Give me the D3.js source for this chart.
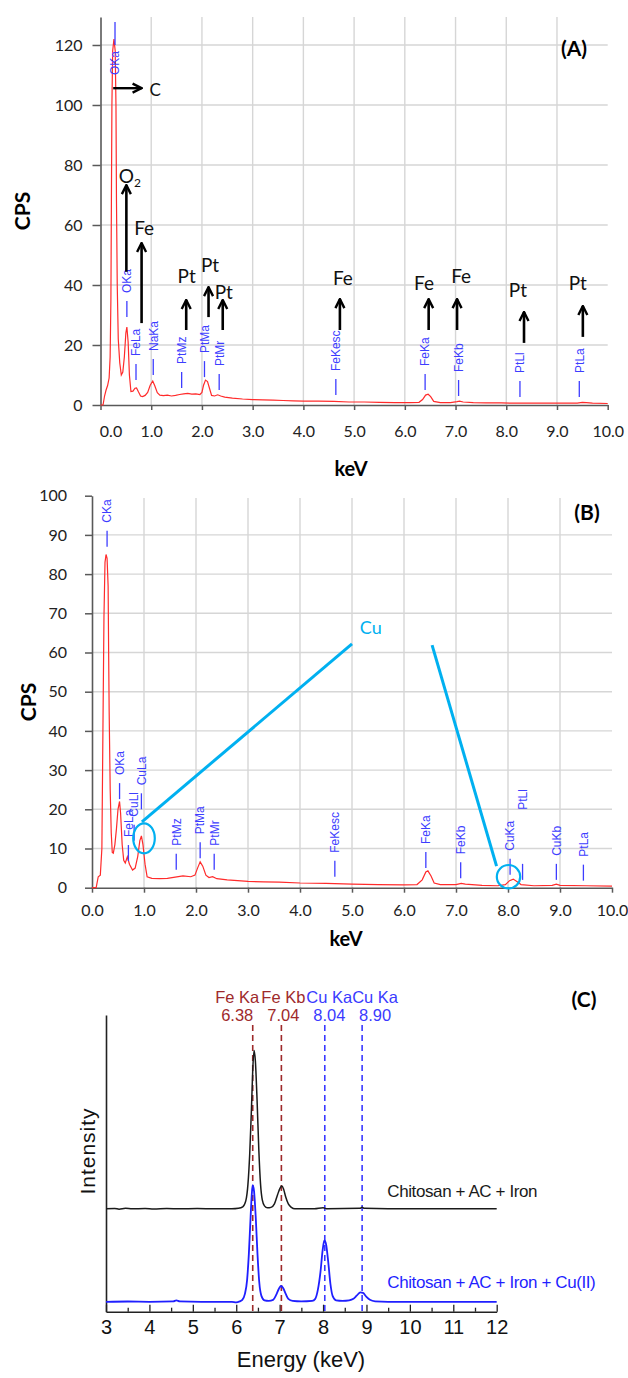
<!DOCTYPE html>
<html>
<head>
<meta charset="utf-8">
<script src="https://cdn.jsdelivr.net/npm/d3@7"></script>
<style>
body { margin: 0; background: #fff; }
svg { font-family: Lato, "Open Sans", sans-serif; }
</style>
</head>
<body>
<svg id="chart" width="628" height="1378"></svg>
<script>
// ---- data: panel A (keV, CPS) ----
const spectrumA = [
  [0.00,0],[0.05,0],[0.08,3],[0.11,5],[0.14,6.5],[0.17,9],[0.19,16],[0.205,35],[0.215,68],[0.225,100],
  [0.24,118],[0.265,122],[0.29,118],[0.305,100],[0.315,68],[0.33,40],[0.35,22],[0.38,14],[0.41,10],
  [0.44,11],[0.47,16],[0.50,24],[0.52,26],[0.545,21],[0.57,10],[0.60,4.5],[0.64,4.6],[0.68,5.6],
  [0.71,5.7],[0.75,4.3],[0.79,3.0],[0.83,2.8],[0.88,3.2],[0.93,4.2],[0.98,6.6],[1.03,8.0],[1.07,6.4],
  [1.12,4.1],[1.17,3.3],[1.24,3.1],[1.32,3.3],[1.40,3.0],[1.48,3.2],[1.56,3.5],[1.64,3.7],[1.72,3.9],
  [1.80,3.6],[1.88,3.7],[1.96,3.5],[2.00,4.2],[2.03,6.5],[2.07,8.3],[2.11,7.8],[2.15,5.5],[2.19,3.2],
  [2.25,3.0],[2.31,3.4],[2.37,3.0],[2.45,2.6],[2.6,2.3],[2.8,2.0],[3.0,1.8],[3.2,1.7],[3.4,1.6],
  [3.6,1.5],[3.8,1.4],[4.0,1.3],[4.3,1.3],[4.6,1.2],[4.9,1.0],[5.2,1.0],[5.5,0.9],[5.8,0.8],[6.1,0.8],
  [6.28,0.9],[6.35,1.8],[6.41,3.3],[6.46,3.6],[6.51,2.8],[6.57,1.2],[6.7,0.8],[6.9,0.8],[7.03,1.1],
  [7.08,1.3],[7.15,1.0],[7.35,0.8],[7.6,0.7],[7.9,0.7],[8.2,0.6],[8.5,0.6],[8.8,0.6],[9.1,0.6],
  [9.4,0.6],[9.5,0.9],[9.58,0.8],[9.7,0.6],[10.0,0.5]
];
const markerNamesA = ["OKa","FeLa","NaKa","PtMz","PtMa","PtMr","FeKesc","FeKa","FeKb","PtLl","PtLa"];
const markerKeVA   = [0.52, 0.70, 1.04, 1.60, 2.05, 2.34, 4.64, 6.40, 7.06, 8.27, 9.44];
const markerLevelA = [29.3, 8.3, 10, 5.7, 9.3, 5, 3.3, 5, 3, 2.7, 2.7];
const topMarkerA = ["OKa", 0.286, 127.7];   // label at the top of the C peak

const arrowLabelsA = ["O","Fe","Pt","Pt","Pt","Fe","Fe","Fe","Pt","Pt"];
const arrowKeVA    = [0.51, 0.81, 1.69, 2.13, 2.41, 4.72, 6.47, 7.03, 8.35, 9.51];
const arrowFromA   = [44.4, 27.3, 25, 29.3, 25, 25, 25, 25, 20.7, 22.7];
const arrowToA     = [73.3, 54, 35, 39.3, 35, 35.3, 35.3, 35.3, 31, 33];
const labelKeVA    = [0.58, 0.86, 1.70, 2.16, 2.43, 4.78, 6.38, 7.11, 8.23, 9.41];
const labelCpsA    = [74, 56.7, 40.6, 44.4, 35.3, 40, 38.3, 40.7, 36, 38.3];
const carbonArrowA = [0.25, 0.81, 105.6];   // from keV, to keV, CPS

// ---- data: panel B ----
const spectrumB = [
  [0.00,0],[0.08,0],[0.12,2.8],[0.16,3.2],[0.19,10],[0.21,40],[0.23,69],[0.25,83],[0.27,85],[0.29,84],
  [0.31,77],[0.32,60],[0.33,45],[0.35,25],[0.37,14],[0.39,9],[0.41,8.8],[0.44,11],[0.47,15],[0.50,20],
  [0.53,22],[0.55,19],[0.58,11],[0.61,7],[0.64,6.3],[0.68,7.9],[0.72,6],[0.78,4.5],[0.83,5],[0.88,8],
  [0.92,12],[0.95,13.2],[0.98,11],[1.02,6],[1.06,2.8],[1.15,2.4],[1.3,2.3],[1.45,2.4],[1.6,2.7],
  [1.75,3],[1.9,2.8],[1.98,3.2],[2.03,5],[2.08,6.6],[2.13,5.5],[2.19,3.2],[2.25,2.6],[2.32,2.8],
  [2.4,2.3],[2.6,2],[2.8,1.8],[3.0,1.6],[3.3,1.5],[3.6,1.4],[4.0,1.2],[4.5,1.1],[5.0,0.9],[5.5,0.8],
  [6.0,0.7],[6.25,0.8],[6.35,2],[6.42,4],[6.46,4.3],[6.52,3],[6.58,1.2],[6.7,0.8],[7.0,0.8],[7.1,1.1],
  [7.18,0.9],[7.5,0.6],[7.8,0.5],[7.95,0.8],[8.03,1.8],[8.1,2.2],[8.17,1.6],[8.25,0.8],[8.5,0.5],
  [8.85,0.6],[8.93,0.9],[9.0,0.6],[9.5,0.5],[10,0.4]
];
const markerNamesB = ["CKa","OKa","FeLa","CuLl","CuLa","PtMz","PtMa","PtMr","FeKesc","FeKa","FeKb","CuKa","PtLl","CuKb","PtLa"];
const markerKeVB   = [0.29, 0.53, 0.70, 0.81, 0.95, 1.62, 2.08, 2.35, 4.67, 6.42, 7.09, 8.04, 8.28, 8.93, 9.45];
const markerLevelB = [87, 22.6, 6.8, 12, 20, 4.6, 7.5, 4.6, 2.8, 5, 2.4, 3.3, 2, 2, 1.8];
const cuCirclesB = [[1.00, 12.6], [8.01, 2.8]];
const cuLinesB   = [[0.96, 16.8, 5.0, 62.2], [6.54, 61.9, 7.78, 5.5]];
const cuLabelB   = [5.15, 64.7];

// ---- data: panel C ----
const ironSpectrum = [
  [3.0,0],[3.2,0.4],[3.3,-0.3],[3.45,0.5],[3.6,0],[3.9,0.4],[4.1,-0.2],[4.4,0.3],[4.7,0],[5.1,0.3],
  [5.5,0],[5.9,0],[6.05,0.5],[6.15,2],[6.22,8],[6.27,25],[6.31,55],[6.35,100],[6.38,140],[6.41,160],
  [6.44,150],[6.48,110],[6.52,60],[6.56,25],[6.60,9],[6.65,3],[6.72,1],[6.8,1.5],[6.88,5],[6.95,14],
  [7.01,21],[7.05,23],[7.09,20],[7.14,12],[7.2,5],[7.27,1.5],[7.35,0],[7.8,0],[8.0,1],[8.1,0],
  [8.85,0.5],[8.9,1.5],[8.95,0.5],[9.5,0],[12,0]
];
const copperSpectrum = [
  [3.0,0],[3.5,0.3],[4.0,0],[4.55,0.5],[4.62,1.5],[4.7,0.5],[5.2,0],[5.9,0],[6.0,-0.5],[6.08,0.5],
  [6.14,2],[6.2,8],[6.25,22],[6.29,48],[6.33,85],[6.36,110],[6.38,118],[6.41,112],[6.45,85],[6.49,48],
  [6.53,20],[6.58,6],[6.65,1.5],[6.75,1],[6.85,2],[6.92,7],[6.98,13],[7.03,16],[7.08,14],[7.14,8],
  [7.2,3],[7.3,1],[7.5,0.5],[7.75,1],[7.82,3],[7.88,12],[7.94,30],[7.99,52],[8.03,62],[8.07,58],
  [8.12,40],[8.17,18],[8.22,6],[8.3,1.5],[8.45,1],[8.6,1.5],[8.7,3],[8.78,6.5],[8.86,9.5],[8.92,9],
  [9.0,5],[9.08,2],[9.2,0.5],[9.5,0],[12,0]
];
const lineNamesC    = ["Fe Ka","Fe Kb","Cu Ka","Cu Ka"];
const lineEnergiesC = [6.38, 7.04, 8.04, 8.90];
const seriesNamesC  = ["Chitosan + AC + Iron", "Chitosan + AC + Iron + Cu(II)"];

// ---- drawing ----
const svg = d3.select("#chart");
const markerBlue = "#3d3dff", spectrumRed = "#ff2b2b", cuCyan = "#00b0f0";
const arial = "Liberation Sans, Arial, sans-serif";

let defs = svg.append("defs");
defs.append("marker")
    .attr("id", "head")
    .attr("viewBox", "0 0 12 12")
    .attr("refX", 11).attr("refY", 6)
    .attr("markerWidth", 12).attr("markerHeight", 12)
    .attr("markerUnits", "userSpaceOnUse")
    .attr("orient", "auto")
  .append("path")
    .attr("d", "M2,1.5 L11,6 L2,10.5")
    .attr("fill", "none")
    .attr("stroke", "#000")
    .attr("stroke-width", 2.4);

let drawPanel = (cfg) => {
    let g = svg.append("g");
    let x = d3.scaleLinear().domain([0, 10]).range(cfg.xRange);
    let y = d3.scaleLinear().domain([0, cfg.yMax]).range(cfg.yRange);

    // grid
    g.append("g").selectAll("line")
        .data(d3.range(1, 10))
        .join("line")
        .attr("x1", d => x(d)).attr("x2", d => x(d))
        .attr("y1", cfg.gridTop).attr("y2", y(0))
        .attr("stroke", "#d6d6d6").attr("stroke-width", 1.4);
    g.append("g").selectAll("line")
        .data(cfg.gridY)
        .join("line")
        .attr("x1", x(0)).attr("x2", x(10))
        .attr("y1", d => y(d)).attr("y2", d => y(d))
        .attr("stroke", "#d6d6d6").attr("stroke-width", 1.4);

    let xAxis = g.append("g")
        .attr("transform", `translate(0, ${y(0)})`)
        .call(d3.axisBottom(x).tickValues(d3.range(0, 11)).tickFormat(d3.format(".1f"))
              .tickSize(5).tickSizeOuter(0).tickPadding(cfg.xPad));
    let yAxis = g.append("g")
        .attr("transform", `translate(${x(0)}, 0)`)
        .call(d3.axisLeft(y).tickValues(cfg.yTicks).tickSize(cfg.yTickLen)
              .tickSizeOuter(0).tickPadding(cfg.yPad));
    for (let a of [xAxis, yAxis]) {
        a.select(".domain").attr("stroke", "#595959").attr("stroke-width", 1.6);
        a.selectAll(".tick line").attr("stroke", "#595959").attr("stroke-width", 1.5);
        a.selectAll(".tick text")
            .attr("font-family", "Lato").attr("font-size", 16).attr("fill", "#222");
    }
    if (cfg.firstLabelDx) xAxis.select(".tick text").attr("dx", cfg.firstLabelDx);

    // spectrum
    g.append("path")
        .datum(cfg.spectrum)
        .attr("fill", "none")
        .attr("stroke", spectrumRed)
        .attr("stroke-width", 1.2)
        .attr("d", d3.line().x(d => x(d[0])).y(d => y(d[1])));

    // titles
    g.append("text")
        .attr("transform", `translate(${cfg.cpsX}, ${cfg.cpsY}) rotate(-90)`)
        .attr("text-anchor", "middle")
        .attr("font-weight", "bold").attr("font-size", 21)
        .text("CPS");
    g.append("text")
        .attr("x", cfg.kevX).attr("y", cfg.kevY)
        .attr("text-anchor", "middle")
        .attr("font-weight", "bold").attr("font-size", 20)
        .text("keV");
    g.append("text")
        .attr("x", cfg.tagX).attr("y", cfg.tagY)
        .attr("text-anchor", "middle")
        .attr("font-weight", "bold").attr("font-size", 21)
        .text(cfg.tag);

    return {g, x, y};
};

// blue element markers: short tick, rotated name above it
let drawMarkers = (p, names, keVs, levels, lift) => {
    let rows = names.map((n, i) => ({name: n, keV: keVs[i], level: levels[i]}));
    let mg = p.g.append("g");
    mg.selectAll("line")
        .data(rows)
        .join("line")
        .attr("x1", d => p.x(d.keV)).attr("x2", d => p.x(d.keV))
        .attr("y1", d => p.y(d.level)).attr("y2", d => p.y(d.level) - 16)
        .attr("stroke", markerBlue).attr("stroke-width", 1.3);
    mg.selectAll("text")
        .data(rows)
        .join("text")
        .attr("transform", d =>
            `translate(${p.x(d.keV)}, ${p.y(d.level) - 24 - (lift[d.name] || 0)}) rotate(-90)`)
        .attr("dy", "0.36em")
        .attr("font-family", arial)
        .attr("font-size", 12)
        .attr("fill", markerBlue)
        .text(d => d.name);
};

// ---------- panel A ----------
let pA = drawPanel({
    xRange: [100.5, 607.7], yMax: 129.33, yRange: [405, 17], gridTop: 17,
    gridY: [20, 40, 60, 80, 100, 120], yTicks: [0, 20, 40, 60, 80, 100, 120],
    yTickLen: 8, yPad: 10, xPad: 15.5, firstLabelDx: 10,
    spectrum: spectrumA,
    cpsX: 30, cpsY: 211, kevX: 351, kevY: 476, tag: "(A)", tagX: 574, tagY: 56
});
drawMarkers(pA, markerNamesA, markerKeVA, markerLevelA, {});

// marker sitting at the top of the carbon peak
pA.g.append("line")
    .attr("x1", pA.x(topMarkerA[1])).attr("x2", pA.x(topMarkerA[1]))
    .attr("y1", pA.y(topMarkerA[2])).attr("y2", pA.y(120))
    .attr("stroke", markerBlue).attr("stroke-width", 1.3);
pA.g.append("text")
    .attr("transform", `translate(${pA.x(topMarkerA[1])}, ${pA.y(118)}) rotate(-90)`)
    .attr("text-anchor", "end").attr("dy", "0.36em")
    .attr("font-family", arial)
    .attr("font-size", 12).attr("fill", markerBlue)
    .text(topMarkerA[0]);

// black arrows + element names
let arrowRows = arrowLabelsA.map((l, i) => ({
    label: l, keV: arrowKeVA[i], from: arrowFromA[i], to: arrowToA[i],
    lx: labelKeVA[i], ly: labelCpsA[i]
}));
let ag = pA.g.append("g");
ag.selectAll("line")
    .data(arrowRows)
    .join("line")
    .attr("x1", d => pA.x(d.keV)).attr("x2", d => pA.x(d.keV))
    .attr("y1", d => pA.y(d.from)).attr("y2", d => pA.y(d.to))
    .attr("stroke", "#000").attr("stroke-width", 2.6)
    .attr("marker-end", "url(#head)");
let at = ag.selectAll("text")
    .data(arrowRows)
    .join("text")
    .attr("x", d => pA.x(d.lx)).attr("y", d => pA.y(d.ly))
    .attr("text-anchor", "middle")
    .attr("font-size", 19).attr("fill", "#111")
    .text(d => d.label);
at.filter(d => d.label === "O")
    .append("tspan").attr("font-size", 12).attr("dy", 4).text("2");

ag.append("line")
    .attr("x1", pA.x(carbonArrowA[0])).attr("x2", pA.x(carbonArrowA[1]))
    .attr("y1", pA.y(carbonArrowA[2])).attr("y2", pA.y(carbonArrowA[2]))
    .attr("stroke", "#000").attr("stroke-width", 2.4)
    .attr("marker-end", "url(#head)");
ag.append("text")
    .attr("x", pA.x(carbonArrowA[1]) + 8).attr("y", pA.y(carbonArrowA[2]) + 8)
    .attr("font-size", 17).attr("fill", "#111")
    .text("C");

// ---------- panel B ----------
let pB = drawPanel({
    xRange: [92, 612], yMax: 100, yRange: [887.7, 495.7], gridTop: 498,
    gridY: d3.range(10, 100, 10), yTicks: d3.range(0, 101, 10),
    yTickLen: 7, yPad: 18, xPad: 12,
    spectrum: spectrumB,
    cpsX: 36, cpsY: 702, kevX: 346, kevY: 946, tag: "(B)", tagX: 587, tagY: 520
});
drawMarkers(pB, markerNamesB, markerKeVB, markerLevelB, {PtLl: 46});

let cg = pB.g.append("g").attr("fill", "none").attr("stroke", cuCyan).attr("stroke-width", 3);
cg.selectAll("ellipse")
    .data(cuCirclesB)
    .join("ellipse")
    .attr("cx", d => pB.x(d[0])).attr("cy", d => pB.y(d[1]))
    .attr("rx", (d, i) => i === 0 ? 10.8 : 11.7)
    .attr("ry", (d, i) => i === 0 ? 15 : 11.7)
    .attr("stroke-width", 2.2);
cg.selectAll("line")
    .data(cuLinesB)
    .join("line")
    .attr("x1", d => pB.x(d[0])).attr("y1", d => pB.y(d[1]))
    .attr("x2", d => pB.x(d[2])).attr("y2", d => pB.y(d[3]));
pB.g.append("text")
    .attr("x", pB.x(cuLabelB[0])).attr("y", pB.y(cuLabelB[1]))
    .attr("font-size", 18).attr("fill", cuCyan)
    .text("Cu");

// ---------- panel C ----------
let gC = svg.append("g").attr("font-family", arial);
let xC = d3.scaleLinear().domain([3, 12]).range([106, 496.7]);
let yC = d3.scaleLinear().domain([0, 300]).range([1311.7, 1015]);
let ironOffset = 104, copperOffset = 10;

let xAxisC = gC.append("g")
    .attr("transform", `translate(0, ${yC(0)})`)
    .call(d3.axisBottom(xC).tickValues(d3.range(3, 13)).tickFormat(d3.format("d"))
          .tickSize(-7).tickSizeOuter(0).tickPadding(8));
gC.append("g")
    .attr("transform", `translate(0, ${yC(0)})`)
    .call(d3.axisBottom(xC).tickValues(d3.range(3.5, 12, 1)).tickFormat("")
          .tickSize(-4).tickSizeOuter(0))
    .call(a => a.select(".domain").remove())
    .selectAll(".tick line").attr("stroke", "#222").attr("stroke-width", 1.3);
xAxisC.select(".domain").attr("stroke", "#222").attr("stroke-width", 1.6);
xAxisC.selectAll(".tick line").attr("stroke", "#222").attr("stroke-width", 1.3);
xAxisC.selectAll(".tick text")
    .attr("font-family", arial)
    .attr("font-size", 20).attr("fill", "#111");

gC.append("g")
    .attr("transform", `translate(${xC(3)}, 0)`)
    .call(d3.axisLeft(yC).tickValues([]).tickSizeOuter(0))
    .select(".domain").attr("stroke", "#222").attr("stroke-width", 1.6);

// reference energy lines
let lineRows = lineNamesC.map((n, i) => ({name: n, e: lineEnergiesC[i]}));
let lineColor = d => d.name.startsWith("Fe") ? "#9e2a2b" : "#3a3aff";
let labelDx = [-15.5, 2, 4.5, 13];
gC.append("g").selectAll("line")
    .data(lineRows)
    .join("line")
    .attr("x1", d => xC(d.e)).attr("x2", d => xC(d.e))
    .attr("y1", yC(290)).attr("y2", yC(0))
    .attr("stroke", lineColor)
    .attr("stroke-width", 1.6)
    .attr("stroke-dasharray", "6,4");
let lt = gC.append("g").selectAll("text")
    .data(lineRows)
    .join("text")
    .attr("text-anchor", "middle")
    .attr("font-size", 16.5)
    .attr("fill", lineColor);
lt.append("tspan")
    .attr("x", (d, i) => xC(d.e) + labelDx[i]).attr("y", 1003)
    .text(d => d.name);
lt.append("tspan")
    .attr("x", (d, i) => xC(d.e) + labelDx[i]).attr("y", 1021)
    .text(d => d.e.toFixed(2));

// spectra
gC.append("path")
    .datum(ironSpectrum)
    .attr("fill", "none").attr("stroke", "#1a1a1a").attr("stroke-width", 1.5)
    .attr("d", d3.line().curve(d3.curveMonotoneX)
        .x(d => xC(d[0])).y(d => yC(d[1] + ironOffset)));
gC.append("path")
    .datum(copperSpectrum)
    .attr("fill", "none").attr("stroke", "#1f1fff").attr("stroke-width", 1.8)
    .attr("d", d3.line().curve(d3.curveMonotoneX)
        .x(d => xC(d[0])).y(d => yC(d[1] + copperOffset)));

gC.append("text")
    .attr("x", xC(9.48)).attr("y", yC(116))
    .attr("font-size", 17).attr("letter-spacing", -0.4).attr("fill", "#1a1a1a")
    .text(seriesNamesC[0]);
gC.append("text")
    .attr("x", xC(9.48)).attr("y", yC(24))
    .attr("font-size", 17).attr("letter-spacing", -0.4).attr("fill", "#1f1fff")
    .text(seriesNamesC[1]);

gC.append("text")
    .attr("transform", `translate(95, 1151) rotate(-90)`)
    .attr("text-anchor", "middle")
    .attr("font-size", 21).attr("letter-spacing", 1).attr("fill", "#111")
    .text("Intensity");
gC.append("text")
    .attr("x", 301).attr("y", 1367)
    .attr("text-anchor", "middle")
    .attr("font-size", 22).attr("fill", "#111")
    .text("Energy (keV)");
svg.append("text")
    .attr("x", 584).attr("y", 1007)
    .attr("text-anchor", "middle")
    .attr("font-weight", "bold").attr("font-size", 21)
    .text("(C)");
</script>
</body>
</html>
